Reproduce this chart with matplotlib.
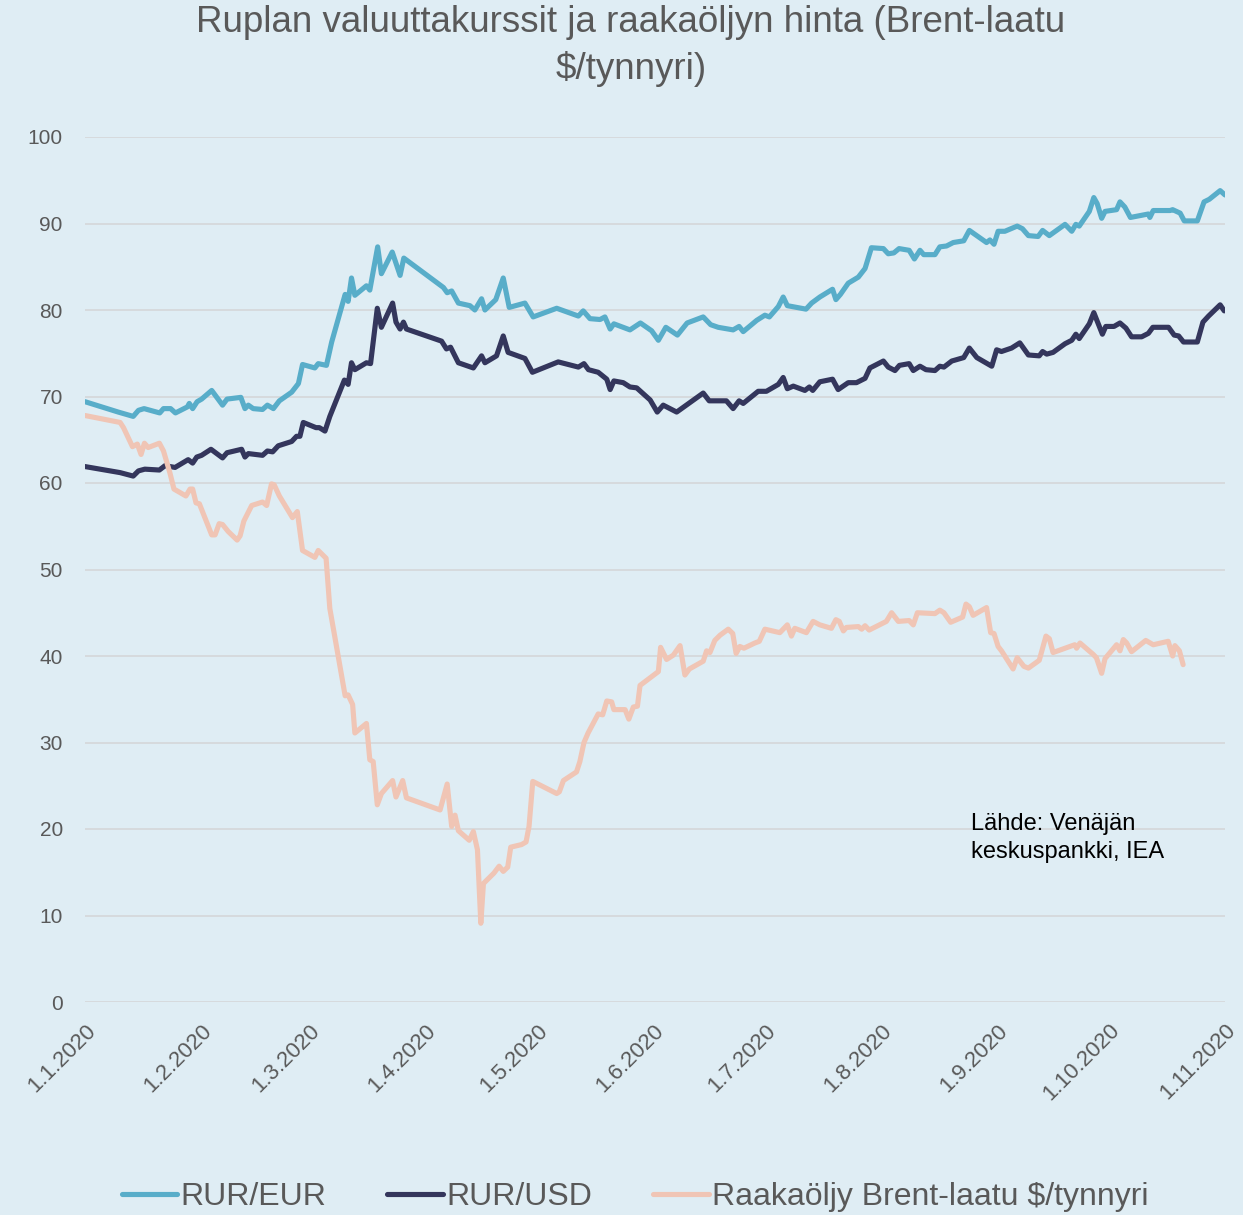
import numpy as np
import pandas as pd
import matplotlib
matplotlib.use("Agg")
import matplotlib.pyplot as plt

plt.rcParams['font.family'] = ['Liberation Sans', 'DejaVu Sans']

# days since 1.1.2020 and values
eur_day = [0, 8.9, 12.9, 14.3, 15.8, 20, 21, 22.9, 24.2, 27.4, 27.9, 28.8, 30, 31.2, 33.9, 36.8, 38,
           41.7, 42.8, 43.7, 45, 47.5, 48.8, 50.4, 52, 55.3, 57.1, 58.2, 61.5, 62.4, 64.6, 66, 69.6,
           70.4, 71.3, 72.2, 75.3, 76.2, 78.3, 79.3, 82.2, 84.3, 85.3, 95.9, 96.9, 98.1, 99.9, 103,
           104.3, 106.1, 107, 109.9, 111.9, 113.5, 117.7, 119.9, 126.2, 132, 133.3, 135.1, 137.8,
           139.1, 140.5, 141.5, 145.8, 148.6, 151.6, 153.4, 155.4, 158.5, 161.1, 165.4, 167.4, 169.4,
           173.4, 175, 176.1, 179.7, 181.9, 183.1, 185.5, 186.8, 187.9, 192.9, 194.4, 196.6, 200,
           200.9, 202.1, 204.2, 206.9, 208.7, 210.4, 213.6, 214.9, 216.4, 217.8, 220.5, 221.9, 223.4,
           224.4, 227.4, 228.7, 230.5, 232.3, 235.1, 236.6, 241.2, 242.1, 243.2, 244.3, 246.1, 249.4,
           250.8, 252.4, 255, 256.2, 258, 262.2, 264, 265.1, 266, 268.7, 269.9, 270.8, 272, 272.9,
           276, 276.9, 278.2, 279.7, 284.5, 284.9, 285.8, 290.3, 291, 293, 294.1, 297.6, 299.4,
           300.8, 303.7, 305]
eur_val = [69.4, 68.2, 67.7, 68.4, 68.6, 68.1, 68.6, 68.6, 68.1, 68.8, 69.2, 68.6, 69.4, 69.7, 70.7,
           69.0, 69.7, 69.9, 68.6, 69.0, 68.6, 68.5, 69.0, 68.6, 69.5, 70.5, 71.5, 73.7, 73.3, 73.8,
           73.6, 76.3, 81.8, 81.0, 83.7, 81.7, 82.8, 82.3, 87.3, 84.2, 86.7, 84.0, 86.0, 82.6, 82.0,
           82.2, 80.8, 80.5, 80.0, 81.3, 80.0, 81.2, 83.7, 80.3, 80.8, 79.2, 80.2, 79.3, 79.9, 79.0,
           78.9, 79.2, 77.8, 78.4, 77.7, 78.5, 77.6, 76.5, 78.0, 77.1, 78.5, 79.2, 78.3, 78.0, 77.7,
           78.1, 77.5, 78.8, 79.4, 79.2, 80.4, 81.5, 80.5, 80.1, 80.8, 81.5, 82.4, 81.2, 81.8, 83.1,
           83.8, 84.8, 87.2, 87.1, 86.5, 86.6, 87.1, 86.9, 85.9, 86.9, 86.4, 86.4, 87.3, 87.4, 87.8,
           88.0, 89.2, 87.8, 88.1, 87.6, 89.1, 89.1, 89.7, 89.4, 88.6, 88.5, 89.2, 88.6, 89.9, 89.1,
           89.9, 89.7, 91.4, 93.0, 92.3, 90.6, 91.4, 91.6, 92.5, 91.9, 90.7, 91.1, 90.7, 91.5, 91.5,
           91.6, 91.2, 90.3, 90.3, 92.5, 92.8, 93.8, 93.3]

usd_day = [0, 9.4, 12.9, 14.3, 16, 19.9, 21.4, 24.1, 27.6, 28.8, 29.9, 31.2, 33.7, 36.8, 38, 41.9,
           42.8, 43.7, 47.5, 48.8, 50.2, 51.7, 55.3, 56.6, 57.5, 58.4, 61.8, 62.7, 64.2, 65.5, 69.4,
           70.4, 71.3, 72.2, 75.3, 76.4, 78.2, 79.3, 82.3, 83.2, 84.3, 85.2, 86, 95.4, 96.7, 97.8,
           99.9, 103.9, 106.1, 107, 110.1, 111.9, 113.2, 117.7, 119.7, 126.6, 132, 133.5, 134.7,
           137.3, 139.6, 140.5, 141.5, 144, 145.8, 147.6, 151.2, 153.1, 154.7, 158.3, 159.6, 165.4,
           167, 171.6, 173.4, 175, 176.1, 180.1, 182.3, 185.5, 186.8, 187.9, 189.5, 192.6, 193.8,
           194.7, 196.6, 200, 201.5, 204.2, 206.4, 208.7, 210, 213.6, 214.9, 216.7, 217.9, 220.5,
           221.6, 223.4, 225, 227.4, 228.7, 229.8, 231.9, 235.1, 236.6, 238.6, 242.6, 243.9, 245.2,
           247.9, 250.1, 252.4, 255.3, 256.2, 257.3, 259, 262.2, 264, 265.1, 266, 268.7, 269.9,
           271.1, 272.2, 273.1, 275.3, 276.9, 278.5, 280, 282.7, 284.5, 285.7, 289.9, 291.4, 292.6,
           293.9, 297.6, 299.1, 300.6, 303.7, 304.8]
usd_val = [61.9, 61.2, 60.8, 61.4, 61.6, 61.5, 62.0, 61.8, 62.7, 62.3, 63.0, 63.2, 63.9, 62.9, 63.5,
           63.9, 63.0, 63.4, 63.2, 63.7, 63.6, 64.3, 64.8, 65.4, 65.4, 67.0, 66.4, 66.4, 66.0, 67.7,
           71.9, 71.4, 73.9, 73.1, 73.9, 73.8, 80.2, 78.0, 80.8, 78.6, 77.8, 78.6, 77.8, 76.4, 75.5,
           75.7, 73.9, 73.3, 74.7, 73.9, 74.7, 77.0, 75.1, 74.4, 72.8, 74.0, 73.4, 73.8, 73.1, 72.8,
           72.0, 70.8, 71.8, 71.6, 71.1, 71.0, 69.6, 68.2, 69.0, 68.2, 68.6, 70.4, 69.5, 69.5, 68.6,
           69.5, 69.2, 70.6, 70.6, 71.4, 72.2, 70.9, 71.2, 70.7, 71.1, 70.7, 71.7, 72.0, 70.8, 71.6,
           71.6, 72.1, 73.3, 74.1, 73.4, 73.0, 73.6, 73.8, 73.0, 73.5, 73.1, 73.0, 73.5, 73.4, 74.1,
           74.5, 75.6, 74.5, 73.5, 75.4, 75.2, 75.6, 76.2, 74.8, 74.7, 75.2, 74.9, 75.1, 76.1, 76.5,
           77.2, 76.7, 78.4, 79.7, 78.4, 77.2, 78.1, 78.1, 78.5, 77.9, 76.9, 76.9, 77.3, 78.0, 78.0,
           77.1, 77.0, 76.3, 76.3, 78.6, 79.3, 80.6, 79.9]

brent_day = [0, 9.4, 10.3, 12.7, 14, 15, 15.9, 16.9, 19.9, 21, 22.7, 23.8, 27, 28.1, 28.8, 29.7,
             30.6, 33.9, 34.8, 35.9, 36.8, 38.3, 40.7, 41.5, 42.5, 44.6, 47.5, 48.6, 49.9, 50.6, 52,
             55.5, 56.8, 58.2, 61.5, 62.4, 64.5, 65.5, 69.6, 70.4, 71.6, 72.2, 75.3, 76.2, 77.1,
             78.2, 79.3, 82.3, 83.2, 85, 86, 95, 96.9, 98.1, 99, 99.9, 102.8, 103.9, 105, 105.9,
             106.6, 109.4, 110.8, 111.9, 113.1, 113.9, 116.8, 118, 118.8, 119.8, 126.2, 126.9, 128,
             131.5, 132.4, 133.5, 134.6, 137.3, 138.5, 139.6, 140.9, 141.5, 144.5, 145.5, 146.7,
             147.8, 148.5, 153.4, 154, 155.6, 157.4, 159.2, 160.5, 161.7, 165.4, 166.3, 167.2,
             168.5, 169.9, 172.1, 173.3, 174.2, 175.2, 176.3, 179.2, 180.4, 181.9, 185.9, 187.9,
             189, 189.9, 193, 194.8, 196.6, 199.7, 200.9, 201.8, 202.9, 203.7, 206.9, 207.8, 208.7,
             209.8, 214.4, 215.8, 217.6, 220.5, 221.6, 222.7, 227.4, 228.7, 229.8, 231.6, 234.8,
             235.7, 236.6, 237.6, 241.2, 242.3, 243.2, 244.3, 245.2, 248.3, 249.4, 251.2, 252.4,
             255.3, 257.1, 258, 259, 264.8, 265.3, 266.2, 269.7, 270.6, 272, 272.9, 276, 276.9,
             277.8, 278.7, 280, 283.8, 285.8, 289.8, 291, 291.6, 292.8, 293.8]
brent_val = [67.8, 67.0, 66.4, 64.2, 64.5, 63.3, 64.6, 64.1, 64.6, 63.7, 61.2, 59.3, 58.5, 59.3, 59.3,
             57.7, 57.6, 54.0, 54.0, 55.3, 55.2, 54.4, 53.4, 53.9, 55.6, 57.4, 57.8, 57.4, 59.9,
             59.8, 58.5, 56.0, 56.7, 52.2, 51.4, 52.2, 51.3, 45.5, 35.4, 35.5, 34.4, 31.1, 32.2,
             28.0, 27.8, 22.8, 24.1, 25.6, 23.7, 25.6, 23.6, 22.2, 25.2, 20.3, 21.6, 19.8, 18.7,
             19.7, 17.6, 9.1, 13.7, 14.9, 15.7, 15.1, 15.6, 17.9, 18.2, 18.5, 20.3, 25.5, 24.1,
             24.3, 25.6, 26.6, 27.8, 30.0, 31.1, 33.3, 33.2, 34.8, 34.7, 33.8, 33.8, 32.7, 34.1,
             34.2, 36.6, 38.2, 41.0, 39.6, 40.1, 41.2, 37.8, 38.5, 39.4, 40.6, 40.4, 41.8, 42.4,
             43.1, 42.6, 40.3, 41.1, 40.9, 41.5, 41.7, 43.1, 42.7, 43.6, 42.3, 43.2, 42.7, 44.0,
             43.6, 43.2, 44.2, 44.0, 42.9, 43.3, 43.4, 43.1, 43.5, 43.0, 44.0, 45.0, 44.0, 44.1,
             43.6, 45.0, 44.9, 45.3, 45.0, 43.9, 44.5, 46.0, 45.7, 44.7, 45.6, 42.7, 42.6, 41.1,
             40.6, 38.5, 39.8, 38.8, 38.6, 39.5, 42.3, 42.0, 40.4, 41.3, 40.9, 41.5, 40.2, 39.8,
             38.0, 39.7, 41.3, 40.6, 41.9, 41.5, 40.5, 41.8, 41.3, 41.7, 40.0, 41.2, 40.6, 39.0]

month_ticks = pd.date_range('2020-01-01', '2020-11-01', freq='MS')
tick_labels = ['%d.%d.%d' % (d.day, d.month, d.year) for d in month_ticks]

start = pd.Timestamp('2020-01-01')
def to_dates(days):
    return start + pd.to_timedelta(np.array(days), unit='D')

bg = '#dfedf4'
txt = '#595959'

fig = plt.figure(figsize=(12.43, 12.15), dpi=100, facecolor=bg)
ax = fig.add_axes([85/1243, 1 - 1002/1215, 1140/1243, 865/1215])
ax.set_facecolor(bg)

lw = 3.7
ax.plot(to_dates(eur_day), eur_val, color='#58adc9', lw=lw, label='RUR/EUR',
        solid_joinstyle='round', solid_capstyle='round', zorder=3)
ax.plot(to_dates(usd_day), usd_val, color='#34365c', lw=lw, label='RUR/USD',
        solid_joinstyle='round', solid_capstyle='round', zorder=3)
ax.plot(to_dates(brent_day), brent_val, color='#f0c5b5', lw=lw,
        label='Raakaöljy Brent-laatu \\$/tynnyri',
        solid_joinstyle='round', solid_capstyle='round', zorder=3)

ax.set_ylim(0, 100)
ax.set_yticks(range(0, 101, 10))
ax.set_xlim(month_ticks[0], month_ticks[-1])
ax.set_xticks(month_ticks)
ax.set_xticklabels(tick_labels, rotation=45, ha='right', rotation_mode='anchor')

ax.grid(axis='y', color='#d6d9db', lw=1.3, zorder=1)
ax.set_axisbelow(True)
for s in ax.spines.values():
    s.set_visible(False)
ax.tick_params(axis='both', length=0, colors=txt)
ax.tick_params(axis='y', pad=16, labelsize=15)
ax.tick_params(axis='x', pad=13, labelsize=16)

fig.text(631/1243, 1 - 46/1215, 'Ruplan valuuttakurssit ja raakaöljyn hinta (Brent-laatu\n\\$/tynnyri)',
         ha='center', va='center', fontsize=26.5, color=txt, linespacing=1.4)

ax.text(971/1243, 1 - 838/1215, 'Lähde: Venäjän\nkeskuspankki, IEA', transform=fig.transFigure,
        ha='left', va='center', fontsize=17, color='black', linespacing=1.38)

fig.legend(loc='center', bbox_to_anchor=(635/1243, 1 - 1197/1215), ncol=3, frameon=False,
           fontsize=23, labelcolor=txt, handlelength=1.75, handletextpad=0.1, columnspacing=1.9,
           borderaxespad=0)

fig.savefig('out.png', dpi=100, facecolor=bg)
